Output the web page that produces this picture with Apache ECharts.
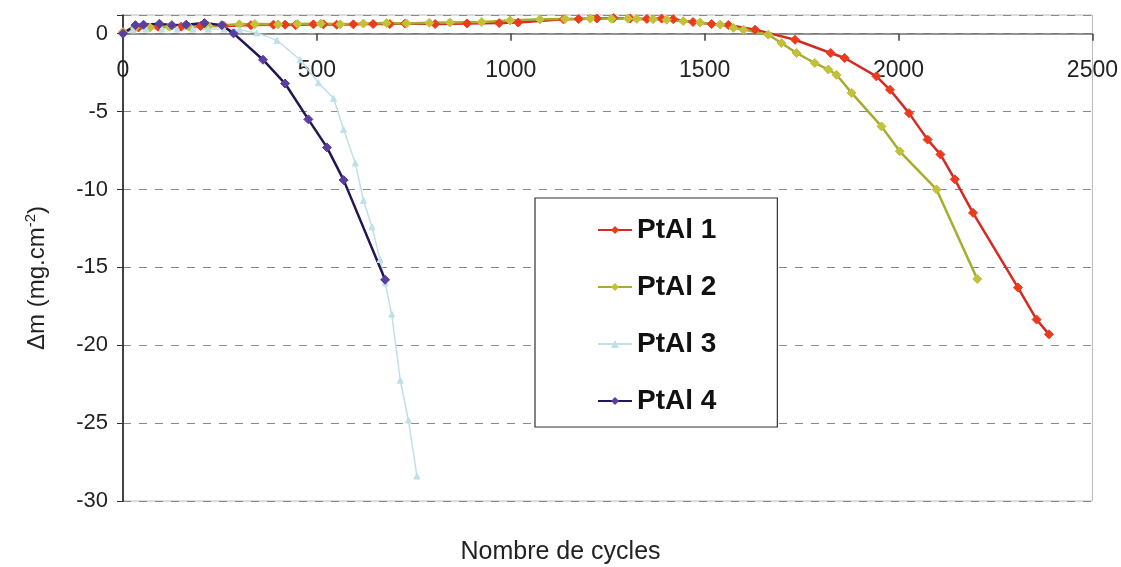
<!DOCTYPE html>
<html>
<head>
<meta charset="utf-8">
<script src="https://cdn.jsdelivr.net/npm/echarts@6/dist/echarts.min.js"></script>
<style>
html,body{margin:0;padding:0;background:#fff;}
#chart{width:1121px;height:567px;}
</style>
</head>
<body>
<div id="chart"></div>
<script>
// Data: [cycles, Δm (mg.cm-2)]
const seriesNames = ['PtAl 1', 'PtAl 2', 'PtAl 3', 'PtAl 4'];
const xTicks = [0, 500, 1000, 1500, 2000, 2500];
const yTicks = [-30, -25, -20, -15, -10, -5, 0];

const ptal1 = [[0,0.1],[40,0.4],[90,0.45],[150,0.45],[200,0.5],[260,0.5],[330,0.55],[388,0.58],[418,0.58],[445,0.55],[491,0.6],[517,0.6],[551,0.58],[594,0.6],[645,0.62],[688,0.62],[727,0.65],[805,0.62],[887,0.66],[970,0.68],[1019,0.72],[1136,0.92],[1175,0.94],[1222,0.98],[1265,1.0],[1308,0.98],[1351,0.95],[1389,0.97],[1419,0.93],[1470,0.75],[1518,0.62],[1561,0.56],[1630,0.26],[1733,-0.39],[1825,-1.24],[1861,-1.56],[1943,-2.74],[1978,-3.6],[2027,-5.1],[2075,-6.8],[2108,-7.75],[2145,-9.35],[2192,-11.5],[2308,-16.3],[2356,-18.35],[2388,-19.3]];
const ptal2 = [[0,0.1],[30,0.35],[70,0.4],[120,0.45],[170,0.45],[220,0.5],[300,0.6],[340,0.62],[400,0.6],[450,0.62],[510,0.65],[560,0.6],[620,0.65],[680,0.68],[731,0.66],[790,0.7],[843,0.72],[925,0.75],[998,0.85],[1075,0.92],[1140,0.95],[1205,0.97],[1260,0.96],[1302,0.97],[1325,0.95],[1367,0.93],[1402,0.9],[1445,0.8],[1488,0.72],[1540,0.58],[1574,0.38],[1600,0.26],[1664,-0.06],[1698,-0.6],[1737,-1.24],[1784,-1.88],[1819,-2.3],[1840,-2.64],[1879,-3.8],[1956,-5.95],[2003,-7.55],[2098,-10.0],[2203,-15.75]];
const ptal3 = [[0,0.1],[25,0.25],[60,0.3],[100,0.3],[140,0.3],[180,0.3],[220,0.3],[260,0.3],[300,0.25],[345,0.05],[397,-0.43],[457,-1.67],[504,-3.15],[543,-4.15],[569,-6.15],[599,-8.3],[620,-10.7],[642,-12.4],[663,-14.5],[676,-16.0],[693,-18.0],[715,-22.25],[736,-24.8],[758,-28.4]];
const ptal4 = [[0,0],[32,0.55],[53,0.58],[94,0.64],[126,0.55],[163,0.58],[210,0.68],[255,0.55],[285,0.02],[361,-1.67],[418,-3.2],[478,-5.5],[526,-7.3],[569,-9.4],[676,-15.8]];

const FONT = 'Liberation Sans, Arial, Helvetica, sans-serif';
const chart = echarts.init(document.getElementById('chart'), null, {renderer: 'canvas'});

function mk(name, data, lineColor, markColor, symbol, size, width) {
  return {
    name: name, type: 'line', data: data,
    symbol: symbol, symbolSize: size, showSymbol: true,
    lineStyle: {color: lineColor, width: width},
    itemStyle: {color: markColor, borderColor: markColor},
    emphasis: {disabled: true},
    z: 3
  };
}

const yMax = 1.2;
const gridTop = 15, gridBottom = 66, chartH = 567;
const plotH = chartH - gridTop - gridBottom;
// move the x axis (line, ticks, labels) up to the y = 0 level
const xOffset = -plotH * (0 - yTicks[0]) / (yMax - yTicks[0]);

chart.setOption({
  animation: false,
  backgroundColor: '#ffffff',
  grid: {left: 123, right: 28, top: gridTop, bottom: gridBottom, show: true, borderColor: '#b8b8b8', borderWidth: 1},
  xAxis: {
    type: 'value', min: xTicks[0], max: xTicks[xTicks.length - 1], interval: 500,
    offset: xOffset,
    axisLine: {onZero: false, lineStyle: {color: '#707070', width: 1.5}},
    axisTick: {show: true, inside: false, length: 7, lineStyle: {color: '#404040', width: 1.5}},
    axisLabel: {color: '#222', fontSize: 23, fontFamily: FONT, margin: 25,
      formatter: function (v) { return String(v); }},
    splitLine: {show: false},
    z: 1
  },
  yAxis: {
    type: 'value', min: yTicks[0], max: yMax, interval: 5,
    axisLine: {onZero: false, lineStyle: {color: '#111', width: 1.5}},
    axisTick: {show: true, length: 6, lineStyle: {color: '#333'}},
    axisLabel: {color: '#222', fontSize: 22, fontFamily: FONT, margin: 15,
      formatter: function (v) { return yTicks.indexOf(v) >= 0 ? String(v) : ''; }},
    splitLine: {show: true, lineStyle: {color: '#8a8a8a', type: [8, 8], width: 1}}
  },
  legend: {
    orient: 'vertical', left: 535, top: 198,
    data: seriesNames,
    backgroundColor: '#fff', borderColor: '#333', borderWidth: 1.2,
    padding: [17, 61, 11, 62],
    itemWidth: 34, itemHeight: 10, itemGap: 27,
    textStyle: {fontSize: 28, fontWeight: 'bold', color: '#111', fontFamily: FONT, lineHeight: 30}
  },
  graphic: [
    {type: 'text', left: 'center', top: 540,
     style: {text: 'Nombre de cycles', fontSize: 25, fontFamily: FONT, fill: '#222'}},
    {type: 'text', x: 37, y: 278, rotation: Math.PI / 2,
     style: {text: 'Δm (mg.cm{sup|-2})', fontSize: 24, fontFamily: FONT, fill: '#222',
       align: 'center', verticalAlign: 'middle',
       rich: {sup: {fontSize: 15, fontFamily: FONT, fill: '#222', verticalAlign: 'top', padding: [0, 0, 12, 0]}}}}
  ],
  series: [
    mk(seriesNames[0], ptal1, '#d42a24', '#ec3b1c', 'diamond', 9, 2.5),
    mk(seriesNames[1], ptal2, '#a6ad2e', '#c3c13a', 'diamond', 9, 2.5),
    mk(seriesNames[2], ptal3, '#bfe0e8', '#bfe0e8', 'triangle', 6, 1.5),
    mk(seriesNames[3], ptal4, '#231655', '#5b3fa0', 'diamond', 9, 2.5)
  ]
});
</script>
</body>
</html>
